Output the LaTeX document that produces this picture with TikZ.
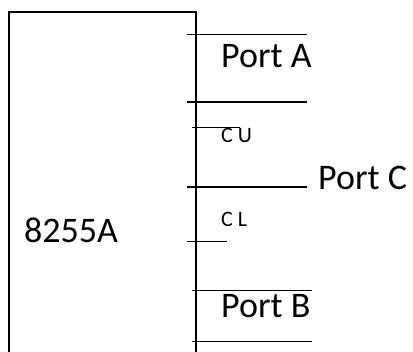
\documentclass[tikz,border=0pt]{standalone}
\usepackage{fontspec}
\setmainfont{Carlito}
\begin{document}
\begin{tikzpicture}[x=1pt,y=-1pt,
  wire/.style={line width=1.5pt},
  big/.style={font=\fontsize{36}{40}\selectfont, inner sep=0pt, anchor=base west},
  small/.style={font=\fontsize{22}{26}\selectfont, inner sep=0pt, anchor=base west}]
\useasboundingbox[fill=white] (0,0) rectangle (413,352);
% chip outline (bottom edge off the picture)
\draw[wire] (9,352) -- (9,12) -- (196,12) -- (196,352);
\node[big] (chip) at (24,243) {8255A};
% Port A
\coordinate (a1) at (187,34.7); \coordinate (a2) at (307,34.7);
\coordinate (a3) at (187,102); \coordinate (a4) at (307,102);
\draw[wire] (a1) -- (a2);
\draw[wire] (a3) -- (a4);
\node[big] (pa) at (221,68) {Port A};
% C upper
\coordinate (cu1) at (192,127.5); \coordinate (cu2) at (240,127.5);
\draw[wire] (cu1) -- (cu2);
\node[small] (cu) at (221,143) {C U};
% Port C
\coordinate (c1) at (187,187); \coordinate (c2) at (307,187);
\draw[wire] (c1) -- (c2);
\node[big] (pc) at (318,190) {Port C};
% C lower
\node[small] (cl) at (221,227) {C L};
\coordinate (cl1) at (187,241.7); \coordinate (cl2) at (227,241.7);
\draw[wire] (cl1) -- (cl2);
% Port B
\coordinate (b1) at (192,290.7); \coordinate (b2) at (312,290.7);
\coordinate (b3) at (192,341.7); \coordinate (b4) at (312,341.7);
\draw[wire] (b1) -- (b2);
\draw[wire] (b3) -- (b4);
\node[big] (pb) at (221,318) {Port B};
\end{tikzpicture}
\end{document}
